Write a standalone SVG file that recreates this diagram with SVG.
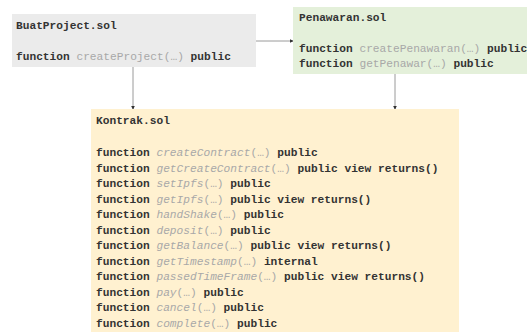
<svg xmlns="http://www.w3.org/2000/svg" width="527" height="333" viewBox="0 0 527 333">
  <style>
    .t { font-family: "Liberation Mono", "Courier New", monospace; font-size: 11.2px; fill: #333333; }
    .k { font-weight: bold; }
    .n { font-weight: normal; fill: #a8a8a8; }
    .i { font-style: italic; }
    .edge { stroke: #9a9a9a; stroke-width: 1; fill: none; marker-end: url(#arrow); }
  </style>
  <defs>
    <marker id="arrow" viewBox="0 0 6 6" refX="5" refY="3" markerWidth="4" markerHeight="4" orient="auto" markerUnits="userSpaceOnUse">
      <path d="M0,0 L6,3 L0,6 z" fill="#333333"/>
    </marker>
  </defs>
  <rect width="527" height="333" fill="#ffffff"/>

  <g id="connectors">
    <path class="edge" d="M256,41 L293,41"/>
    <path class="edge" d="M133,67 L133,109"/>
    <path class="edge" d="M395,74 L395,109"/>
  </g>

  <g id="buatproject">
    <rect x="12" y="14" width="244" height="53" fill="#ebebeb"/>
    <text class="t k" x="16" y="29">BuatProject.sol</text>
    <text class="t k" x="16" y="60">function <tspan class="n">createProject(…)</tspan> public</text>
  </g>

  <g id="penawaran">
    <rect x="293" y="7" width="240" height="67" fill="#e4f0da"/>
    <text class="t k" x="299" y="21">Penawaran.sol</text>
    <text class="t k" x="299" y="52">function <tspan class="n">createPenawaran(…)</tspan> public</text>
    <text class="t k" x="299" y="67">function <tspan class="n">getPenawar(…)</tspan> public</text>
  </g>

  <g id="kontrak">
    <rect x="91" y="109" width="368" height="223" fill="#fff1d0"/>
    <text class="t k" x="96" y="124">Kontrak.sol</text>
    <text class="t k" x="96" y="156">function <tspan class="n i">createContract</tspan><tspan class="n">(…)</tspan> public</text>
    <text class="t k" x="96" y="171.5">function <tspan class="n i">getCreateContract</tspan><tspan class="n">(…)</tspan> public view returns()</text>
    <text class="t k" x="96" y="187">function <tspan class="n i">setIpfs</tspan><tspan class="n">(…)</tspan> public</text>
    <text class="t k" x="96" y="202.5">function <tspan class="n i">getIpfs</tspan><tspan class="n">(…)</tspan> public view returns()</text>
    <text class="t k" x="96" y="218">function <tspan class="n i">handShake</tspan><tspan class="n">(…)</tspan> public</text>
    <text class="t k" x="96" y="233.5">function <tspan class="n i">deposit</tspan><tspan class="n">(…)</tspan> public</text>
    <text class="t k" x="96" y="249">function <tspan class="n i">getBalance</tspan><tspan class="n">(…)</tspan> public view returns()</text>
    <text class="t k" x="96" y="264.5">function <tspan class="n i">getTimestamp</tspan><tspan class="n">(…)</tspan> internal</text>
    <text class="t k" x="96" y="280">function <tspan class="n i">passedTimeFrame</tspan><tspan class="n">(…)</tspan> public view returns()</text>
    <text class="t k" x="96" y="295.5">function <tspan class="n i">pay</tspan><tspan class="n">(…)</tspan> public</text>
    <text class="t k" x="96" y="311">function <tspan class="n i">cancel</tspan><tspan class="n">(…)</tspan> public</text>
    <text class="t k" x="96" y="326.5">function <tspan class="n i">complete</tspan><tspan class="n">(…)</tspan> public</text>
  </g>
</svg>
